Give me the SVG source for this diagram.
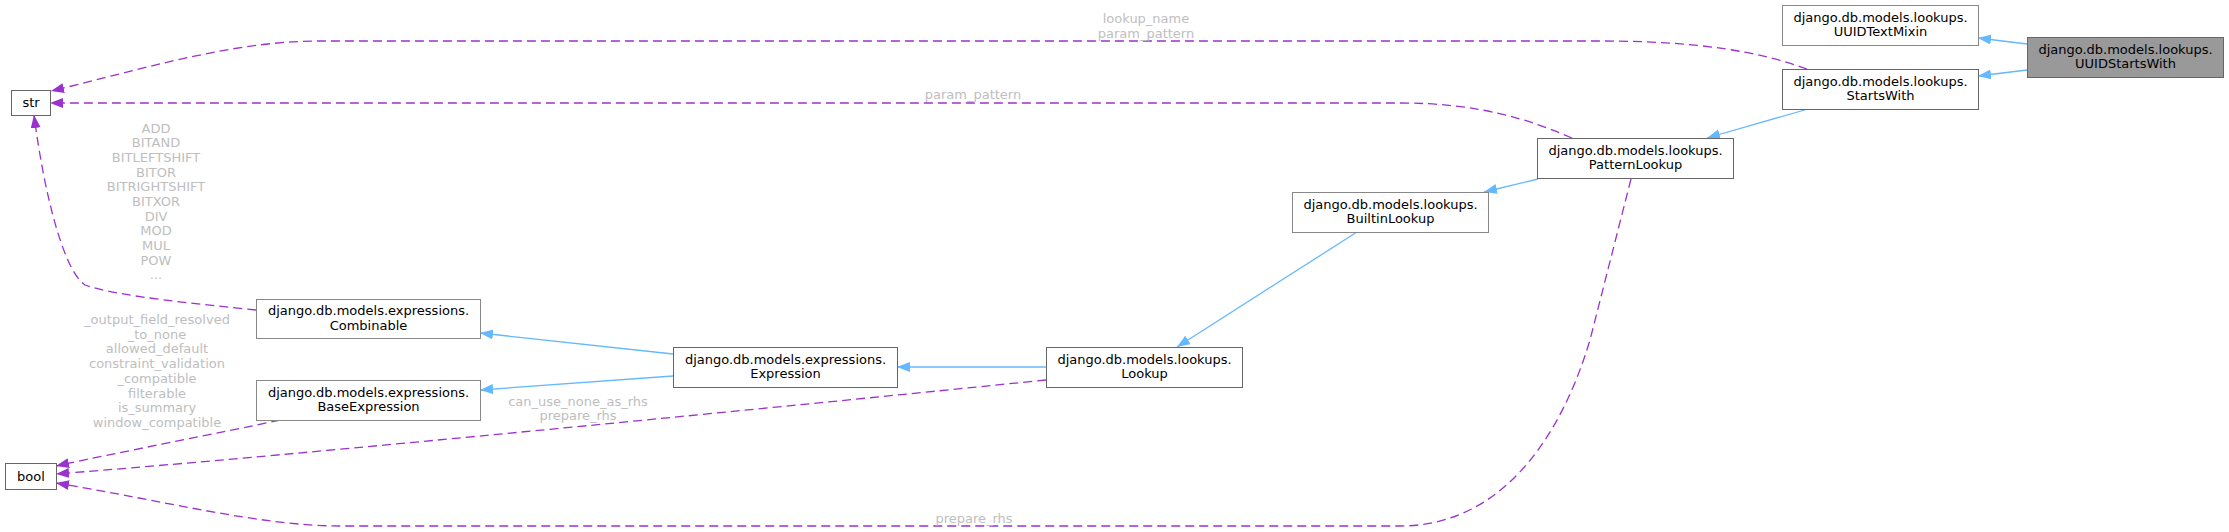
<svg xmlns="http://www.w3.org/2000/svg" width="2229" height="532" viewBox="0 0 2229 532">
<style>
text{font-family:"DejaVu Sans","Liberation Sans",sans-serif;font-size:13px;text-anchor:middle;fill:#000}
.lbl{fill:#bebebe}
.n rect{fill:#fff;stroke:#666;stroke-width:1}
.n.l rect{stroke:#888}
.n.h rect{fill:#999}
.inh{fill:none;stroke:#63b8ff;stroke-width:1.3}
.use{fill:none;stroke:#9a32cd;stroke-width:1.3;stroke-dasharray:9,5}
</style>
<defs>
<marker id="ab" markerUnits="userSpaceOnUse" markerWidth="14" markerHeight="11" refX="13" refY="5" orient="auto"><path d="M0,0 L13,5 L0,10 z" fill="#63b8ff"/></marker>
<marker id="ap" markerUnits="userSpaceOnUse" markerWidth="14" markerHeight="11" refX="13" refY="5" orient="auto"><path d="M0,0 L13,5 L0,10 z" fill="#9a32cd"/></marker>
</defs>
<rect width="2229" height="532" fill="#fff"/>
<g id="edges">
<path class="inh" marker-end="url(#ab)" d="M2027,44 L1978,38"/>
<path class="inh" marker-end="url(#ab)" d="M2027,70 L1978,76"/>
<path class="inh" marker-end="url(#ab)" d="M1808,109 L1707,138"/>
<path class="inh" marker-end="url(#ab)" d="M1538,179 L1484,192"/>
<path class="inh" marker-end="url(#ab)" d="M1357,232 L1177,347"/>
<path class="inh" marker-end="url(#ab)" d="M1046,367 L897,367"/>
<path class="inh" marker-end="url(#ab)" d="M673,354 L480,333"/>
<path class="inh" marker-end="url(#ab)" d="M673,376 L480,390"/>
<path class="use" marker-end="url(#ap)" d="M1807,69 C1760,52 1700,41 1600,41 L320,41 C230,41 140,70 51,91"/>
<path class="use" marker-end="url(#ap)" d="M1572,138 C1530,120 1480,103 1400,103 L50,103"/>
<path class="use" marker-end="url(#ap)" d="M256,310 C200,304 120,297 85,285 C65,272 45,200 34,115"/>
<path class="use" marker-end="url(#ap)" d="M280,420 C220,433 120,452 56,466"/>
<path class="use" marker-end="url(#ap)" d="M1046,380 C800,405 300,455 56,474"/>
<path class="use" marker-end="url(#ap)" d="M1631,179 L1590,340 C1560,440 1500,526 1400,526 L340,526 C260,526 160,500 56,483"/>
<text class="lbl" x="1146" y="23">lookup_name</text>
<text class="lbl" x="1146" y="37.5">param_pattern</text>
<text class="lbl" x="973" y="99">param_pattern</text>
<text class="lbl" x="156" y="132.5">ADD</text>
<text class="lbl" x="156" y="147.2">BITAND</text>
<text class="lbl" x="156" y="161.9">BITLEFTSHIFT</text>
<text class="lbl" x="156" y="176.5">BITOR</text>
<text class="lbl" x="156" y="191.2">BITRIGHTSHIFT</text>
<text class="lbl" x="156" y="205.9">BITXOR</text>
<text class="lbl" x="156" y="220.5">DIV</text>
<text class="lbl" x="156" y="235.2">MOD</text>
<text class="lbl" x="156" y="249.9">MUL</text>
<text class="lbl" x="156" y="264.5">POW</text>
<text class="lbl" x="156" y="279.2">...</text>
<text class="lbl" x="157" y="324">_output_field_resolved</text>
<text class="lbl" x="157" y="338.7">_to_none</text>
<text class="lbl" x="157" y="353.4">allowed_default</text>
<text class="lbl" x="157" y="368.1">constraint_validation</text>
<text class="lbl" x="157" y="382.8">_compatible</text>
<text class="lbl" x="157" y="397.5">filterable</text>
<text class="lbl" x="157" y="412.2">is_summary</text>
<text class="lbl" x="157" y="426.9">window_compatible</text>
<text class="lbl" x="578" y="405.5">can_use_none_as_rhs</text>
<text class="lbl" x="578" y="420">prepare_rhs</text>
<text class="lbl" x="974" y="523">prepare_rhs</text>
</g>
<g id="UUIDStartsWith" class="n h"><rect x="2027.5" y="37.5" width="196" height="40"/><text x="2125.5" y="53.5">django.db.models.lookups.</text><text x="2125.5" y="68">UUIDStartsWith</text></g>
<g id="UUIDTextMixin" class="n l"><rect x="1782.5" y="5.5" width="196" height="40"/><text x="1880.5" y="21.5">django.db.models.lookups.</text><text x="1880.5" y="36">UUIDTextMixin</text></g>
<g id="StartsWith" class="n"><rect x="1782.5" y="69.5" width="196" height="40"/><text x="1880.5" y="85.5">django.db.models.lookups.</text><text x="1880.5" y="100">StartsWith</text></g>
<g id="PatternLookup" class="n"><rect x="1537.5" y="138.5" width="196" height="40"/><text x="1635.5" y="154.5">django.db.models.lookups.</text><text x="1635.5" y="169">PatternLookup</text></g>
<g id="BuiltinLookup" class="n l"><rect x="1292.5" y="192.5" width="196" height="40"/><text x="1390.5" y="208.5">django.db.models.lookups.</text><text x="1390.5" y="223">BuiltinLookup</text></g>
<g id="Lookup" class="n"><rect x="1046.5" y="347.5" width="196" height="40"/><text x="1144.5" y="363.5">django.db.models.lookups.</text><text x="1144.5" y="378">Lookup</text></g>
<g id="Expression" class="n"><rect x="673.5" y="347.5" width="224" height="40"/><text x="785.5" y="363.5">django.db.models.expressions.</text><text x="785.5" y="378">Expression</text></g>
<g id="Combinable" class="n l"><rect x="256.5" y="299.5" width="224" height="39"/><text x="368.5" y="315">django.db.models.expressions.</text><text x="368.5" y="329.5">Combinable</text></g>
<g id="BaseExpression" class="n l"><rect x="256.5" y="380.5" width="224" height="40"/><text x="368.5" y="396.5">django.db.models.expressions.</text><text x="368.5" y="411">BaseExpression</text></g>
<g id="str" class="n"><rect x="11.5" y="90.5" width="39" height="25"/><text x="31" y="107">str</text></g>
<g id="bool" class="n"><rect x="5.5" y="463.5" width="51" height="26"/><text x="31" y="480.5">bool</text></g>
</svg>
